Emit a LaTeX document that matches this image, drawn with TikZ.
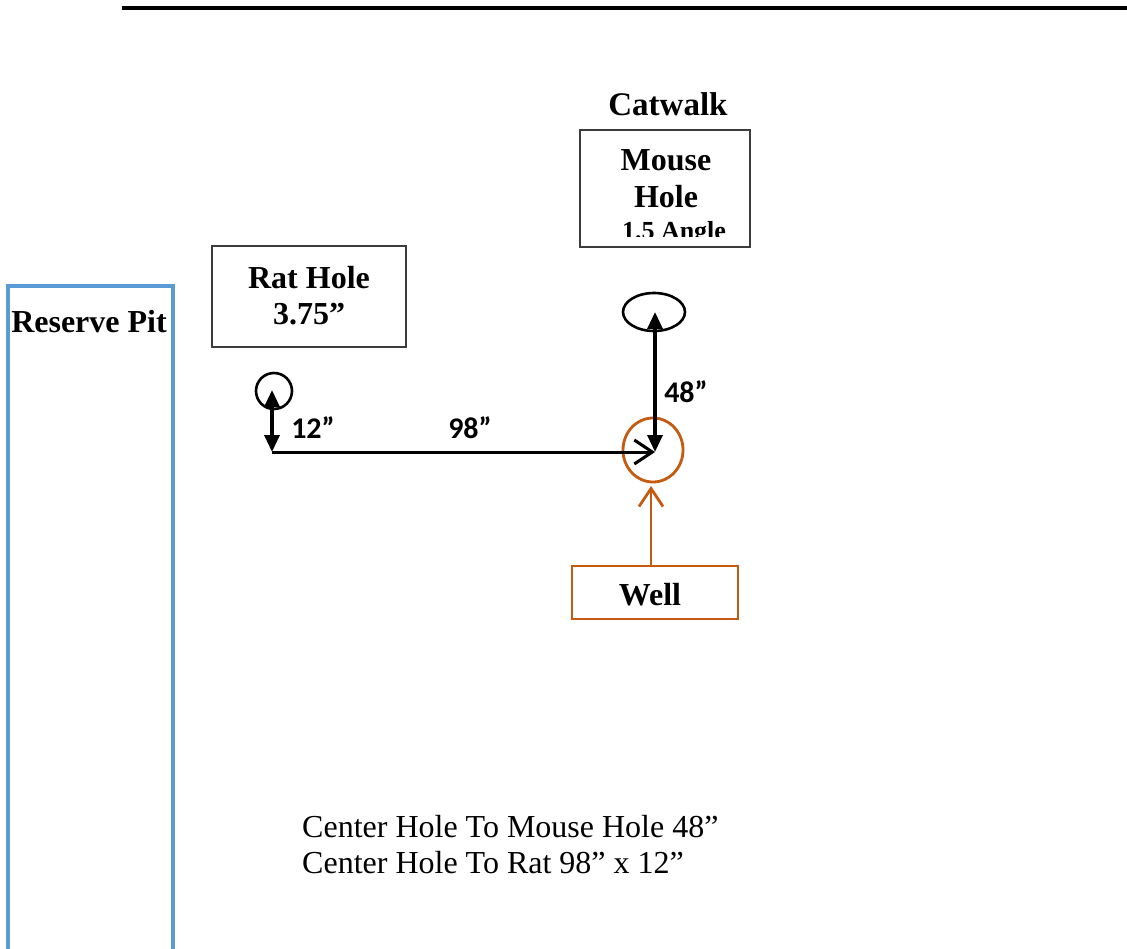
\documentclass[tikz,border=0pt]{standalone}
\usepackage{fontspec}
\setmainfont{Liberation Serif}
\newfontfamily\calibri{Carlito}
\usetikzlibrary{arrows.meta,shapes.geometric}
\definecolor{pitblue}{RGB}{91,155,213}
\definecolor{wellorange}{RGB}{197,90,17}
\definecolor{boxgray}{RGB}{60,60,60}
\tikzset{
  labelbox/.style={draw=boxgray, line width=2pt, minimum width=194pt, minimum height=101pt, inner sep=0pt},
  bigtext/.style={font=\fontsize{32}{38}\selectfont\bfseries, inner sep=0pt},
  dimtext/.style={font=\calibri\fontsize{30}{34}\selectfont\bfseries, inner sep=0pt},
  notetext/.style={font=\fontsize{32}{38}\selectfont, inner sep=0pt, align=left},
  hole/.style={draw=black, line width=2.6pt, inner sep=0pt},
  dimarrow/.style={line width=3.3pt, {Triangle[length=17pt,width=15pt]}-{Triangle[length=17pt,width=15pt]}},
  openarrow/.style={line width=3pt, -{Straight Barb[length=18pt,width=24pt,line width=3pt]}},
}
\begin{document}
\begin{tikzpicture}[x=1pt,y=-1pt]
\useasboundingbox (0,0) rectangle (1127,949);
% top rule
\coordinate (ruleL) at (122,8);
\coordinate (ruleR) at (1127,8);
\draw[line width=3.5pt] (ruleL) -- (ruleR);

% reserve pit (open at the bottom)
\coordinate (pitA) at (8,960);
\coordinate (pitB) at (8,286);
\coordinate (pitC) at (173,286);
\coordinate (pitD) at (173,960);
\draw[pitblue, line width=3.6pt] (pitA) -- (pitB) -- (pitC) -- (pitD);
\node[bigtext] (pit) at (89,322) {Reserve Pit};

% rat hole box
\node[labelbox] (ratbox) at (309,296.5) {};
\node[bigtext] (rattxt1) at (309,278) {Rat Hole};
\node[bigtext] (rattxt2) at (309,314) {3.75”};

% catwalk + mouse hole box
\node[bigtext, font=\fontsize{33}{38}\selectfont\bfseries] (catwalk) at (668,104) {Catwalk};
\node[labelbox, minimum width=170pt, minimum height=117pt] (mousebox) at (665,188.5) {};
\node[bigtext] (mousetxt1) at (666,160) {Mouse};
\node[bigtext] (mousetxt2) at (666,197) {Hole};
\begin{scope}
  \clip (581,131) rectangle (749,237);
  \node[font=\fontsize{26}{30}\selectfont\bfseries, inner sep=0pt, anchor=base] (angle) at (674,240) {1.5 Angle};
\end{scope}

% holes
\node[hole, circle, minimum size=36pt] (rat) at (274,391) {};
\node[hole, ellipse, minimum width=62pt, minimum height=38pt] (mouse) at (654,312) {};
\node[draw=wellorange, line width=2.8pt, ellipse, minimum width=60pt, minimum height=64pt, inner sep=0pt] (well) at (653,450) {};

% dimension arrows
\coordinate (corner) at (272,452);
\coordinate (ratc) at (272,390);
\coordinate (mousec) at (655,312);
\coordinate (wellc) at (655,452);
\draw[dimarrow] (ratc) -- (corner);
\draw[openarrow] (corner) -- (wellc);
\draw[dimarrow] (mousec) -- (wellc);

\node[dimtext] (d12) at (313,428) {12”};
\node[dimtext] (d98) at (470,428) {98”};
\node[dimtext] (d48) at (686,392) {48”};

% well box and arrow
\node[draw=wellorange, line width=2pt, minimum width=166pt, minimum height=53pt, inner sep=0pt] (wellbox) at (655,592) {};
\node[bigtext] (welltxt) at (650,595) {Well};
\coordinate (wellarrowS) at (651,565);
\coordinate (wellarrowE) at (651,486);
\draw[wellorange, line width=2.8pt, -{Straight Barb[length=18pt,width=24pt,line width=2.8pt]}] (wellarrowS) -- (wellarrowE);

% notes
\node[notetext, anchor=base west] (note1) at (302,837) {Center Hole To Mouse Hole 48”};
\node[notetext, anchor=base west] (note2) at (302,873) {Center Hole To Rat 98” x 12”};
\end{tikzpicture}
\end{document}
